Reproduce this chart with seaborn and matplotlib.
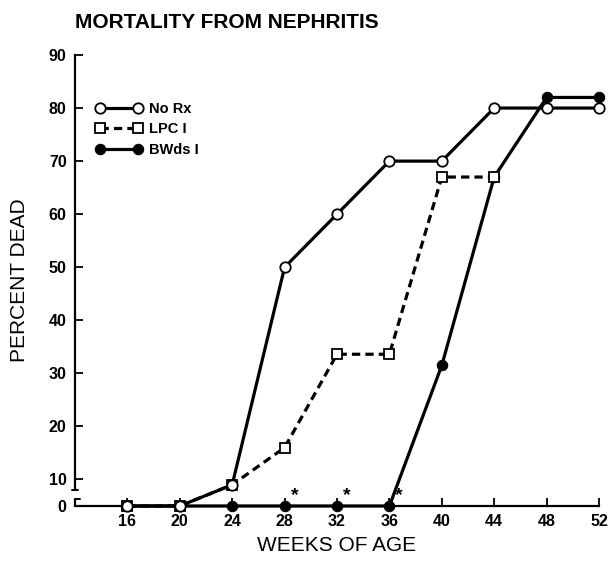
import numpy as np
import pandas as pd
import matplotlib
matplotlib.use("Agg")
import matplotlib.pyplot as plt
import seaborn as sns

# ---- data ----
weeks_norx = [16, 20, 24, 28, 32, 36, 40, 44, 48, 52]
dead_norx = [0, 0, 9, 50, 60, 70, 70, 80, 80, 80]
weeks_lpc = [16, 20, 24, 28, 32, 36, 40, 44]
dead_lpc = [0, 0, 9, 16, 33.6, 33.6, 67, 67]
weeks_bw = [16, 20, 24, 28, 32, 36, 40, 44, 48, 52]
dead_bw = [0, 0, 0, 0, 0, 0, 31.5, 67, 82, 82]
asterisk_weeks = [28, 32, 36]
xticks = [16, 20, 24, 28, 32, 36, 40, 44, 48, 52]
yticks = [0, 10, 20, 30, 40, 50, 60, 70, 80, 90]
labels = ["No Rx", "LPC I", "BWds I"]

sns.set_theme(style="ticks")
plt.rcParams['font.family'] = ['Liberation Sans', 'DejaVu Sans']
plt.rcParams['text.color'] = 'black'
plt.rcParams['axes.labelcolor'] = 'black'

fig = plt.figure(figsize=(6.12, 5.61), dpi=100)
ax = fig.add_axes([75/612, 1-506/561, 524/612, 451/561])

def fwd(y):
    y = np.asarray(y, dtype=float)
    return np.where(y >= 6, y, 5 + y/6)

def inv(t):
    t = np.asarray(t, dtype=float)
    return np.where(t >= 6, t, (t - 5) * 6)

ax.set_yscale('function', functions=(fwd, inv))

lw = 2.3
ms = 7.5
df_bw = pd.DataFrame({"week": weeks_bw, "dead": dead_bw})
df_lpc = pd.DataFrame({"week": weeks_lpc, "dead": dead_lpc})
df_nr = pd.DataFrame({"week": weeks_norx, "dead": dead_norx})

sns.lineplot(data=df_bw, x="week", y="dead", ax=ax, color="black", lw=lw,
             marker="o", markersize=ms, markerfacecolor="black",
             markeredgecolor="black", label=labels[2], clip_on=False, zorder=3)
sns.lineplot(data=df_lpc, x="week", y="dead", ax=ax, color="black", lw=lw,
             linestyle=(0, (2.6, 1.6)), marker="s", markersize=ms-0.5,
             markerfacecolor="white", markeredgecolor="black", markeredgewidth=1.3,
             label=labels[1], clip_on=False, zorder=4)
sns.lineplot(data=df_nr, x="week", y="dead", ax=ax, color="black", lw=lw,
             marker="o", markersize=ms, markerfacecolor="white",
             markeredgecolor="black", markeredgewidth=1.3,
             label=labels[0], clip_on=False, zorder=5)

for w in asterisk_weeks:
    ax.annotate("*", xy=(w, 0), xytext=(7, 1.5), textcoords="offset points",
                fontsize=14, fontweight="bold", ha="center", va="bottom")

ax.set_xlim(12, 52)
ax.set_ylim(0, 90)
ax.set_xticks(xticks)
ax.set_yticks(yticks)
ax.tick_params(direction="in", length=6, width=1.3, labelsize=11.5, pad=6,
               colors="black", labelcolor="black")
for t in ax.get_xticklabels() + ax.get_yticklabels():
    t.set_fontweight("bold")
ax.spines['top'].set_visible(False)
ax.spines['right'].set_visible(False)
for s in ['left', 'bottom']:
    ax.spines[s].set_linewidth(1.6)
    ax.spines[s].set_color("black")
ax.spines['left'].set_bounds(8, 90)

# axis break marks
tr = ax.get_yaxis_transform()
ax.plot([-0.006, 0.006], [8, 8], transform=tr, color="black", lw=1.4, clip_on=False)
ax.plot([0, 0], [0, 6.4], transform=tr, color="black", lw=1.6, clip_on=False)
ax.plot([0, 0.01], [6.4, 6.4], transform=tr, color="black", lw=1.4, clip_on=False)

ax.set_xlabel("WEEKS OF AGE", fontsize=15, labelpad=5)
ax.set_ylabel("PERCENT DEAD", fontsize=15, labelpad=14)

h, l = ax.get_legend_handles_labels()
order = [l.index(x) for x in labels]
leg = ax.legend([h[i] for i in order], [l[i] for i in order], loc="upper left",
                bbox_to_anchor=(0.04, 0.895), frameon=False, numpoints=2,
                handlelength=3.2, handletextpad=0.45, labelspacing=0.42,
                prop={"size": 10.5, "weight": "bold"}, borderpad=0, borderaxespad=0)

fig.text(75/612, 1-22/561, "MORTALITY FROM NEPHRITIS", fontsize=15,
         fontweight="bold", va="center", ha="left")

fig.savefig("out.png", dpi=100)
